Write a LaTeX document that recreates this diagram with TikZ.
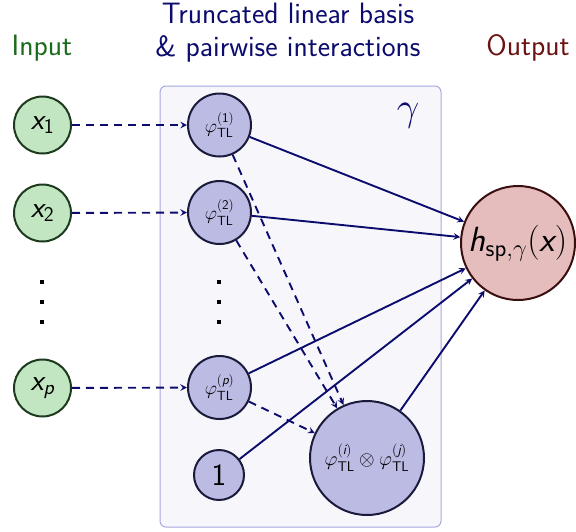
\documentclass[tikz,border=0pt]{standalone}
\usepackage{fix-cm}
\usepackage{fontspec}
\usepackage{amsmath}
\renewcommand{\familydefault}{\sfdefault}
\DeclareMathAlphabet{\mathsfit}{TU}{lmss}{m}{sl}
\usepackage{tikz}
\usetikzlibrary{shapes,arrows,positioning,calc}

\definecolor{navy}{HTML}{0C0C6E}
\definecolor{ingreen}{HTML}{1B6B1B}
\definecolor{indark}{HTML}{1E3A1E}
\definecolor{infill}{HTML}{C2E6C2}
\definecolor{outred}{HTML}{6B1212}
\definecolor{outdark}{HTML}{3A0E0E}
\definecolor{outfill}{HTML}{E6BDBD}
\definecolor{basisfill}{HTML}{BBBBE4}
\definecolor{basisdark}{HTML}{1A1A3C}
\definecolor{panelfill}{HTML}{F7F7FB}
\definecolor{paneldraw}{HTML}{A8A8E0}

\newcommand{\phiTL}[1]{\varphi^{\mathsf{(#1)}}_{\mathsf{TL}}}

\begin{document}
\begin{tikzpicture}[
  x=1pt, y=-1pt,
  title/.style={font=\fontsize{29.5}{33}\selectfont, align=center},
  inp/.style={circle, draw=indark, fill=infill, line width=2pt, minimum size=57pt, inner sep=0pt, font=\fontsize{30}{32}\selectfont},
  basis/.style={circle, draw=basisdark, fill=basisfill, line width=2pt, minimum size=63pt, inner sep=0pt, font=\fontsize{19}{20}\selectfont},
  one/.style={basis, minimum size=50pt, font=\fontsize{31}{32}\selectfont},
  pairbox/.style={basis, minimum size=114pt, font=\fontsize{20}{24}\selectfont},
  outbox/.style={circle, draw=outdark, fill=outfill, line width=2pt, minimum size=114pt, inner sep=0pt, font=\fontsize{35}{36}\selectfont},
  dotbox/.style={rectangle, fill=black, minimum size=4.5pt, inner sep=0pt},
  arrow/.style={->, >=stealth, line width=1.9pt, draw=navy},
  dasharrow/.style={arrow, dash pattern=on 8pt off 6pt}
]
  \useasboundingbox (0,0) rectangle (576,531);

  % panel behind the basis functions
  \node[draw=paneldraw, fill=panelfill, rounded corners=6pt, line width=1pt,
        minimum width=281pt, minimum height=441pt, inner sep=0pt] (panel) at (300.5,306.5) {};
  \node[font=\fontsize{40}{40}\selectfont, text=navy] (gam) at (408,116) {$\gamma$};

  % column headings
  \node[title, text=ingreen] (hin) at (42,48) {Input};
  \node[title, text=navy] (hbasis) at (288,33) {Truncated linear basis\\\& pairwise interactions};
  \node[title, text=outred] (hout) at (528,48) {Output};

  % inputs
  \node[inp] (x1) at (42.5,125) {$\mathsfit{x}_{\mathsf{1}}$};
  \node[inp] (x2) at (42.5,213) {$\mathsfit{x}_{\mathsf{2}}$};
  \node[inp] (xp) at (42.5,388) {$\mathsfit{x}_{\mathsfit{p}}$};

  % basis functions
  \node[basis] (phi1) at (219.5,125) {$\phiTL{1}$};
  \node[basis] (phi2) at (219.5,212.5) {$\phiTL{2}$};
  \node[basis] (phip) at (219.5,387.5) {$\phiTL{\mathsfit{p}}$};
  \node[one] (one) at (219,475) {1};
  \node[pairbox] (pair) at (367,458) {$\phiTL{\mathsfit{i}}\otimes\phiTL{\mathsfit{j}}$};

  % output
  \node[outbox] (out) at (518,243) {$\mathsfit{h}_{\mathsf{sp},\gamma}\mathsf{(}\mathsfit{x}\mathsf{)}$};

  % vertical dots
  \foreach \y [count=\i] in {282,302,322} {
    \node[dotbox] (din\i) at (42,\y) {};
    \node[dotbox] (dbasis\i) at (219,\y) {};
  }

  % inputs to basis
  \draw[dasharrow] (x1) -- (phi1);
  \draw[dasharrow] (x2) -- (phi2);
  \draw[dasharrow] (xp) -- (phip);

  % basis to output
  \draw[arrow] (phi1) -- (out);
  \draw[arrow] (phi2) -- (out);
  \draw[arrow] (phip) -- (out);
  \draw[arrow] (one) -- (out);
  \draw[arrow] (pair) -- (out);

  % pairwise products
  \draw[dasharrow] (phi1) -- (pair);
  \draw[dasharrow] (phi2) -- (pair);
  \draw[dasharrow] (phip) -- (pair);
\end{tikzpicture}
\end{document}
